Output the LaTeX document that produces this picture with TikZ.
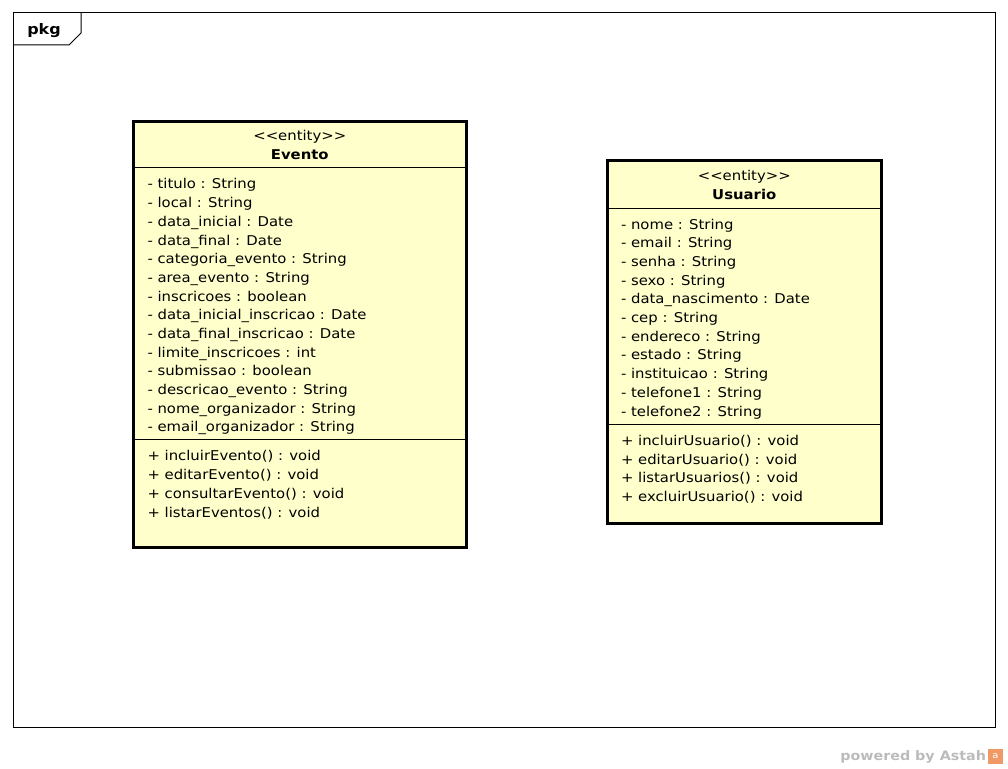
\documentclass[tikz,border=0pt]{standalone}
\usepackage{fontspec}
\setmainfont{DejaVu Sans}[FakeStretch=1.1, Ligatures=TeXOff]
\usetikzlibrary{positioning}
\definecolor{classfill}{HTML}{FFFFCC}
\definecolor{astahgray}{HTML}{BBBBBB}
\definecolor{astahorange}{HTML}{EE9966}

\begin{document}
\begin{tikzpicture}
    [x = 1pt, y = -1pt, outer sep = 0pt, inner sep = 0pt,
    classbox/.style={rectangle, draw=black, fill=classfill, line width=3pt,
      anchor=north west},
    classhead/.style={align=center, anchor=base,
      font=\fontsize{13.5}{19}\selectfont},
    members/.style={align=left, anchor=base west,
      font=\fontsize{13.5}{18.67}\selectfont},
    divider/.style={draw=black, line width=1pt}]
    \useasboundingbox (0,0) rectangle (1008,768);
    % package frame
    \draw [line width=1pt] (13,13) rectangle (995,727);
    \draw [line width=1pt] (13,45) -- (69,45) -- (81,33) -- (81,13);
    \node [font=\fontsize{14.5}{16}\selectfont\bfseries] (pkg) at (44,31) {pkg};

    % Evento (base anchor = last line)
    \node [classbox, minimum width=332.5, minimum height=426] (evento) at (133.5,121) {};
    \node [classhead] (evento-head) at ([yshift=-38.5pt]evento.north)
      {<<entity>>\\\textbf{Evento}};
    \draw [divider] ([yshift=-46pt]evento.north west) -- ([yshift=-46pt]evento.north east);
    \node [members] (evento-attrs) at ([xshift=14pt, yshift=-310.7pt]evento.north west) {
      - titulo : String\\
      - local : String\\
      - data\_inicial : Date\\
      - data\_final : Date\\
      - categoria\_evento : String\\
      - area\_evento : String\\
      - inscricoes : boolean\\
      - data\_inicial\_inscricao : Date\\
      - data\_final\_inscricao : Date\\
      - limite\_inscricoes : int\\
      - submissao : boolean\\
      - descricao\_evento : String\\
      - nome\_organizador : String\\
      - email\_organizador : String};
    \draw [divider] ([yshift=-318pt]evento.north west) -- ([yshift=-318pt]evento.north east);
    \node [members] (evento-ops) at ([xshift=14pt, yshift=-396pt]evento.north west) {
      + incluirEvento() : void\\
      + editarEvento() : void\\
      + consultarEvento() : void\\
      + listarEventos() : void};

    % Usuario
    \node [classbox, minimum width=274.5, minimum height=362.5] (usuario) at (607,160.5) {};
    \node [classhead] (usuario-head) at ([yshift=-38.5pt]usuario.north)
      {<<entity>>\\\textbf{Usuario}};
    \draw [divider] ([yshift=-47.5pt]usuario.north west) -- ([yshift=-47.5pt]usuario.north east);
    \node [members] (usuario-attrs) at ([xshift=14pt, yshift=-255.5pt]usuario.north west) {
      - nome : String\\
      - email : String\\
      - senha : String\\
      - sexo : String\\
      - data\_nascimento : Date\\
      - cep : String\\
      - endereco : String\\
      - estado : String\\
      - instituicao : String\\
      - telefone1 : String\\
      - telefone2 : String};
    \draw [divider] ([yshift=-263.5pt]usuario.north west) -- ([yshift=-263.5pt]usuario.north east);
    \node [members] (usuario-ops) at ([xshift=14pt, yshift=-341pt]usuario.north west) {
      + incluirUsuario() : void\\
      + editarUsuario() : void\\
      + listarUsuarios() : void\\
      + excluirUsuario() : void};

    % watermark
    \node [font=\fontsize{13}{15}\selectfont\bfseries, text=astahgray, anchor=base east]
      (powered) at (986,760) {powered by Astah};
    \node [fill=astahorange, minimum size=15, text=white,
      font=\fontsize{9}{10}\selectfont, right=2pt of powered.east] (logo) {a};
  \end{tikzpicture}
\end{document}
